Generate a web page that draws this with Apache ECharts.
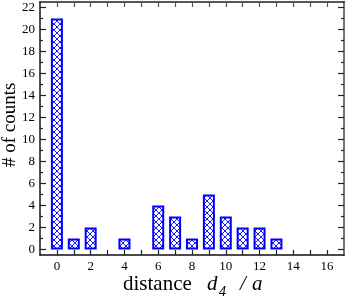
<!DOCTYPE html>
<html><head><meta charset="utf-8">
<script src="https://cdn.jsdelivr.net/npm/echarts@6/dist/echarts.min.js"></script>
<style>html,body{margin:0;padding:0;background:#fff}#c{width:346px;height:300px}</style>
</head><body><div id="c"></div>
<script>
const distances = [0, 1, 2, 4, 6, 7, 8, 9, 10, 11, 12, 13];
const counts = [21, 1, 2, 1, 4, 3, 1, 5, 3, 2, 2, 1];
const xTickValues = [0,1,2,3,4,5,6,7,8,9,10,11,12,13,14,15,16];
const xLabelValues = [0,2,4,6,8,10,12,14,16];
const yMajorValues = [0,2,4,6,8,10,12,14,16,18,20,22];
const yMinorValues = [1,3,5,7,9,11,13,15,17,19,21];

const pat = document.createElement('canvas');
pat.width = 6; pat.height = 6;
const g = pat.getContext('2d');
g.fillStyle = '#fff'; g.fillRect(0,0,6,6);
g.strokeStyle = '#1a1aff'; g.lineWidth = 1;
g.beginPath(); g.moveTo(0,0); g.lineTo(6,6); g.moveTo(6,0); g.lineTo(0,6); g.stroke();

const serif = 'Liberation Serif';
const lineC = '#222';
function yAx(pos, vals, len, labels) {
  return {
    type: 'value', position: pos, min: -0.5, max: 22.5,
    axisLine: {show: true, onZero: false, lineStyle: {color: pos === 'left' ? '#444' : '#777', width: pos === 'left' ? 1.5 : 2}},
    axisTick: {show: true, inside: true, length: len, customValues: vals, lineStyle: {color: lineC, width: 1.2}},
    axisLabel: labels ? {show: true, customValues: yMajorValues, fontFamily: serif, fontSize: 13, color: '#000', margin: 5} : {show: false},
    splitLine: {show: false}
  };
}
const chart = echarts.init(document.getElementById('c'), null, {renderer: 'canvas'});
chart.setOption({
  animation: false,
  backgroundColor: '#fff',
  grid: {left: 40, right: 2, top: 2, bottom: 45, containLabel: false},
  xAxis: [
    {type: 'value', position: 'bottom', min: -1, max: 17,
     axisLine: {show: true, onZero: false, lineStyle: {color: '#111', width: 1.5}},
     axisTick: {show: true, inside: true, length: 5, customValues: xTickValues, lineStyle: {color: lineC, width: 1.2}},
     axisLabel: {show: true, customValues: xLabelValues, fontFamily: serif, fontSize: 13, color: '#000', margin: 5},
     splitLine: {show: false}},
    {type: 'value', position: 'top', min: -1, max: 17,
     axisLine: {show: true, onZero: false, lineStyle: {color: lineC, width: 1.5}},
     axisTick: {show: true, inside: true, length: 5, customValues: xTickValues, lineStyle: {color: '#555', width: 1.2}},
     axisLabel: {show: false}, splitLine: {show: false}}
  ],
  yAxis: [
    yAx('left', yMajorValues, 6, true),
    yAx('left', yMinorValues, 3, false),
    yAx('right', yMajorValues, 6, false),
    yAx('right', yMinorValues, 3, false)
  ],
  series: [{
    type: 'bar', xAxisIndex: 0, yAxisIndex: 0,
    data: distances.map((d, i) => [d, counts[i]]),
    barWidth: 12,
    itemStyle: {color: {image: pat, repeat: 'repeat'}, borderColor: '#0000ff', borderWidth: 2}
  }],
  graphic: [
    {type: 'text', x: 1, y: 167, rotation: Math.PI / 2,
     style: {text: '# of counts', fontFamily: serif, fontSize: 19, fill: '#000', align: 'left', verticalAlign: 'top'}},
    {type: 'text', x: 123, y: 274,
     style: {text: 'distance', fontFamily: serif, fontSize: 21, fill: '#000', verticalAlign: 'top'}},
    {type: 'text', x: 207, y: 274,
     style: {text: 'd', fontFamily: serif, fontStyle: 'italic', fontSize: 21, fill: '#000', verticalAlign: 'top'}},
    {type: 'text', x: 219, y: 285,
     style: {text: '4', fontFamily: serif, fontStyle: 'italic', fontSize: 14, fill: '#000', verticalAlign: 'top'}},
    {type: 'text', x: 240, y: 274,
     style: {text: '/', fontFamily: serif, fontStyle: 'italic', fontSize: 21, fill: '#000', verticalAlign: 'top'}},
    {type: 'text', x: 252, y: 274,
     style: {text: 'a', fontFamily: serif, fontStyle: 'italic', fontSize: 21, fill: '#000', verticalAlign: 'top'}}
  ]
});
</script></body></html>
